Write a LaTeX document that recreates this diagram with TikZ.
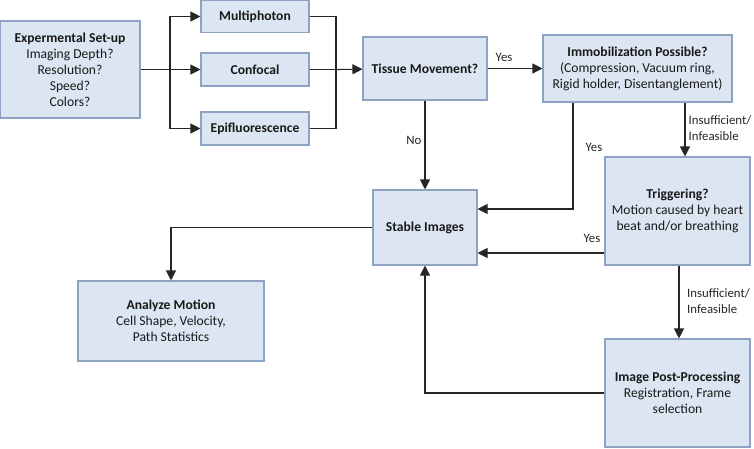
\documentclass[tikz,border=0pt]{standalone}
\usepackage{fontspec}
\setmainfont{Carlito}
\usetikzlibrary{arrows.meta}

\definecolor{boxfill}{HTML}{DCE6F2}
\definecolor{boxline}{HTML}{8EA2C3}
\definecolor{wire}{HTML}{262626}

\tikzset{
	box/.style={draw=boxline, fill=boxfill, line width=1.1pt, align=center, inner sep=2pt, text=black!90},
	arr/.style={draw=wire, line width=1.1pt, -{Triangle[length=10pt,width=10pt]}},
	wireline/.style={draw=wire, line width=1.1pt},
	lbl/.style={text=wire, inner sep=0pt, font=\fontsize{12.8}{16}\selectfont}
}

\begin{document}
\begin{tikzpicture}[x=1pt,y=-1pt,font=\fontsize{13.6}{16}\selectfont]
	\useasboundingbox (0,0) rectangle (754,448);
	% boxes
	\node[box, minimum width=140pt, minimum height=97pt] (setup) at (70,69.5) {\textbf{Expermental Set-up}\\Imaging Depth?\\Resolution?\\Speed?\\Colors?};
	\node[box, minimum width=108pt, minimum height=32pt] (multi) at (255,16.5) {\textbf{Multiphoton}};
	\node[box, minimum width=108pt, minimum height=33pt] (confocal) at (255,69.5) {\textbf{Confocal}};
	\node[box, minimum width=108pt, minimum height=33pt] (epi) at (255,128.5) {\textbf{Epifluorescence}};
	\node[box, minimum width=124pt, minimum height=63pt] (tissue) at (425,68.5) {\textbf{Tissue Movement?}};
	\node[box, minimum width=189pt, minimum height=67pt] (immob) at (637.5,68.5) {\textbf{Immobilization Possible?}\\(Compression, Vacuum ring,\\Rigid holder, Disentanglement)};
	\node[box, minimum width=145pt, minimum height=108pt] (trig) at (677.5,211) {\textbf{Triggering?}\\Motion caused by heart\\beat and/or breathing};
	\node[box, minimum width=104pt, minimum height=75pt] (stable) at (425,227.5) {\textbf{Stable Images}};
	\node[box, minimum width=145pt, minimum height=108pt] (post) at (677.5,393) {\textbf{Image Post-Processing}\\Registration, Frame\\selection};
	\node[box, minimum width=186pt, minimum height=80pt] (analyze) at (171,321) {\textbf{Analyze Motion}\\Cell Shape, Velocity,\\Path Statistics};

	% split and join of the three microscopes
	\coordinate (split) at (170,69.5);
	\coordinate (join) at (336,69.5);
	\draw[wireline] (setup) -- (split);
	\draw[arr] (split) |- (multi);
	\draw[arr] (split) -- (confocal);
	\draw[arr] (split) |- (epi);
	\draw[wireline] (multi) -| (join);
	\draw[wireline] (confocal) -- (join);
	\draw[wireline] (epi) -| (join);
	\draw[arr] (join) -- (tissue);

	% decisions
	\draw[arr] (tissue) -- (immob) node[lbl, pos=0.3, above=6pt] {Yes};
	\draw[arr] (tissue) -- (stable) node[lbl, pos=0.45, left=3pt] {No};
	\coordinate (yesA) at (573,209);
	\draw[arr] (immob.south -| yesA) |- (stable.east |- yesA);
	\node[lbl] (yesAlbl) at (594,147) {Yes};
	\draw[arr] (immob.south -| 685,0) -- (trig.north -| 685,0);
	\node[lbl, anchor=west, align=left] (insA) at (688.5,128) {Insufficient/\\Infeasible};
	\draw[arr] (trig.west |- 0,253) -- (stable.east |- 0,253);
	\node[lbl] (yesBlbl) at (592,238) {Yes};
	\draw[arr] (trig.south -| 679,0) -- (post.north -| 679,0);
	\node[lbl, anchor=west, align=left] (insB) at (687,301) {Insufficient/\\Infeasible};
	\draw[arr] (post.west) -| (stable.south);
	\draw[arr] (stable.west) -| (analyze.north);
\end{tikzpicture}
\end{document}
